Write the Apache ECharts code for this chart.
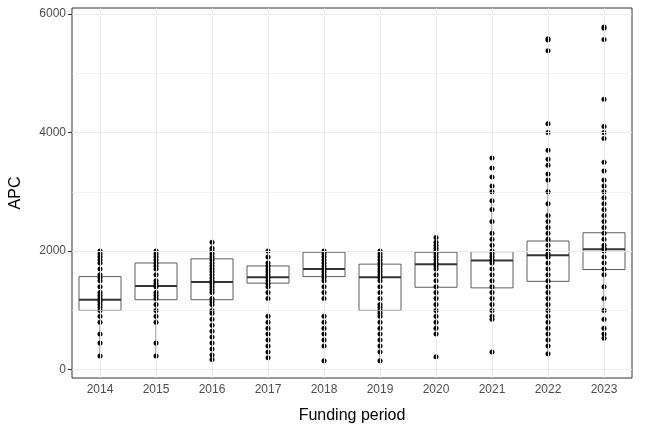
<!DOCTYPE html><html><head><meta charset="utf-8"><script src="https://cdn.jsdelivr.net/npm/echarts@6/dist/echarts.min.js"></script></head><body style="margin:0"><div id="c" style="width:648px;height:432px"></div><script>
const categories=['2014','2015','2016','2017','2018','2019','2020','2021','2022','2023'];
const boxStats=[
[230,1000,1180,1570,2000],[230,1180,1410,1800,2000],[170,1180,1480,1870,2150],[1200,1460,1560,1750,2000],
[1200,1570,1700,1980,2000],[150,1000,1560,1780,2000],[600,1390,1780,1980,2230],[850,1380,1840,1990,2850],
[270,1490,1930,2170,3200],[1000,1690,2030,2310,3200]];
const p2014=[230,450,600,800,900,1000,1050,1100,1150,1200,1250,1300,1400,1500,1550,1600,1700,1800,1850,1900,1950,2000];
const p2015=[230,450,800,900,1000,1100,1200,1250,1300,1400,1450,1500,1600,1700,1750,1800,1850,1900,1950,2000];
const p2016=[170,250,350,450,550,650,750,850,950,1000,1100,1150,1200,1300,1350,1400,1450,1500,1550,1600,1650,1700,1750,1800,1850,1900,1950,2000,2050,2150];
const p2017=[200,300,400,500,600,700,800,900,1200,1300,1400,1450,1500,1550,1600,1650,1700,1750,1800,1900,2000];
const p2018=[150,400,500,600,700,800,900,1200,1300,1400,1500,1550,1600,1650,1700,1750,1800,1850,1900,1950,2000];
const p2019=[150,300,400,500,600,700,800,900,950,1000,1050,1100,1200,1300,1400,1500,1550,1600,1650,1700,1750,1800,1850,1900,1950,2000];
const p2020=[220,600,700,800,900,1000,1100,1200,1300,1400,1500,1600,1700,1750,1800,1850,1900,1950,2000,2050,2100,2150,2230];
const p2021=[300,850,900,1000,1100,1200,1300,1400,1500,1600,1700,1800,1850,1900,1950,2000,2100,2200,2300,2500,2700,2850,3000,3100,3250,3400,3570];
const p2022=[270,400,500,600,700,800,900,1000,1100,1200,1300,1400,1500,1600,1700,1800,1900,1950,2000,2100,2200,2300,2400,2500,2600,2800,3000,3200,3300,3450,3550,3700,4000,4150,5380,5560,5580];
const p2023=[530,600,700,850,1000,1200,1400,1600,1700,1800,1900,2000,2050,2100,2200,2300,2400,2500,2600,2700,2800,2900,3000,3100,3200,3350,3500,3900,4000,4100,4560,5570,5760,5780];
const pts=[p2014,p2015,p2016,p2017,p2018,p2019,p2020,p2021,p2022,p2023];
const scatterData=[];pts.forEach((a,i)=>a.forEach(v=>scatterData.push([categories[i],v])));
const grey='#ebebeb';
const ml=[1000,2000,3000,4000,5000,6000,0].map(v=>({yAxis:v,lineStyle:{width:v%2000===0?1.1:0.6}}))
 .concat(categories.map(c=>({xAxis:c,lineStyle:{width:1.1}})));
const boxData=boxStats.map((s,i)=>[i].concat(s));
const ch=echarts.init(document.getElementById('c'));
ch.setOption({animation:false,
grid:{left:70,right:16,top:8,bottom:54,show:true,borderColor:'#333',borderWidth:1},
xAxis:{type:'category',data:categories,name:'Funding period',nameLocation:'middle',nameGap:30,nameTextStyle:{fontSize:16,color:'#000',fontFamily:'Liberation Sans'},
 axisLine:{show:false},axisTick:{alignWithLabel:true,lineStyle:{color:'#333'},length:4},axisLabel:{color:'#4d4d4d',fontSize:12,fontFamily:'Liberation Sans',margin:6},splitLine:{show:false}},
yAxis:{type:'value',min:-140,max:6100,name:'APC',nameLocation:'middle',nameGap:48,nameTextStyle:{fontSize:16,color:'#000',fontFamily:'Liberation Sans'},
 axisLine:{show:false},axisTick:{show:true,customValues:[0,2000,4000,6000],lineStyle:{color:'#333'},length:4},
 axisLabel:{customValues:[0,2000,4000,6000],formatter:v=>String(v),color:'#4d4d4d',fontSize:12,fontFamily:'Liberation Sans',margin:6},splitLine:{show:false}},
series:[
{type:'scatter',data:[],markLine:{silent:true,symbol:'none',label:{show:false},lineStyle:{color:grey,type:'solid'},data:ml},z:1},
{type:'custom',data:boxData,z:2,renderItem:(params,api)=>{
 const i=api.value(0);const w=api.size([1,0])[0]*0.75;
 const p=k=>api.coord([i,api.value(k)]);
 const lo=p(1),q1=p(2),md=p(3),q3=p(4),hi=p(5);const x=lo[0];
 const st={stroke:'#333',lineWidth:0.8,fill:null};
 return {type:'group',children:[
  {type:'line',shape:{x1:x,y1:lo[1],x2:x,y2:q1[1]},style:st},
  {type:'line',shape:{x1:x,y1:q3[1],x2:x,y2:hi[1]},style:st},
  {type:'rect',shape:{x:x-w/2,y:q3[1],width:w,height:q1[1]-q3[1]},style:{stroke:'#333',lineWidth:0.8,fill:'#fff'}},
  {type:'line',shape:{x1:x-w/2,y1:md[1],x2:x+w/2,y2:md[1]},style:{stroke:'#333',lineWidth:2}}]};}},
{type:'scatter',data:scatterData,symbolSize:5,itemStyle:{color:'#000',opacity:1,borderWidth:0},z:3}]});
</script></body></html>
